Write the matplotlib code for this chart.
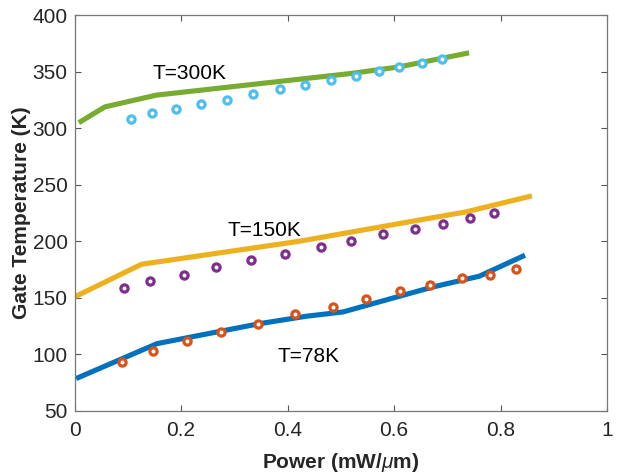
import matplotlib
matplotlib.use("Agg")
import matplotlib.pyplot as plt

plt.rcParams['font.family'] = ['Liberation Sans', 'DejaVu Sans']
plt.rcParams['mathtext.fontset'] = 'custom'
plt.rcParams['mathtext.it'] = 'Liberation Sans:italic'

# Simulated gate temperature (lines) and measured points (circles)
x_300_line = [0.008, 0.057, 0.154, 0.379, 0.52, 0.61, 0.741]
y_300_line = [305.0, 319.0, 329.4, 341.2, 348.6, 354.4, 366.8]
x_300_pts = [0.106, 0.145, 0.190, 0.238, 0.286, 0.336, 0.385, 0.433, 0.482,
             0.528, 0.571, 0.610, 0.652, 0.691]
y_300_pts = [308.4, 313.2, 317.3, 321.2, 325.2, 330.5, 334.4, 338.2, 342.4,
             345.9, 350.6, 354.4, 357.7, 361.5]

x_150_line = [0.0, 0.126, 0.423, 0.610, 0.735, 0.859]
y_150_line = [150.9, 179.8, 200.2, 215.8, 226.1, 240.3]
x_150_pts = [0.093, 0.142, 0.205, 0.266, 0.331, 0.396, 0.462, 0.520, 0.580,
             0.639, 0.692, 0.742, 0.788]
y_150_pts = [158.6, 164.8, 170.7, 177.2, 183.4, 188.9, 194.9, 200.2, 206.4,
             211.4, 215.5, 220.8, 224.7]

x_78_line = [0.003, 0.155, 0.348, 0.435, 0.504, 0.673, 0.760, 0.846]
y_78_line = [78.7, 109.6, 127.3, 133.8, 137.6, 159.7, 169.2, 187.8]
x_78_pts = [0.090, 0.147, 0.212, 0.276, 0.345, 0.415, 0.485, 0.548, 0.611,
            0.668, 0.727, 0.780, 0.829]
y_78_pts = [93.4, 103.1, 112.3, 119.6, 127.3, 136.2, 142.4, 149.1, 155.7,
            161.5, 167.2, 170.7, 175.7]

fig = plt.figure(figsize=(6.24, 4.76), dpi=100)
ax = fig.add_axes([74.5 / 624, 1 - 411 / 476, (607 - 74.5) / 624, (411 - 15.3) / 476])

lw = 3.7
mk = dict(linestyle='none', marker='o', markersize=5.2, markeredgewidth=2.3,
          markerfacecolor='white')

ax.plot(x_300_line, y_300_line, color='#77AC30', lw=lw, solid_capstyle='butt')
ax.plot(x_300_pts, y_300_pts, color='#4DBEEE', **mk)
ax.plot(x_150_line, y_150_line, color='#EDB120', lw=lw, solid_capstyle='butt')
ax.plot(x_150_pts, y_150_pts, color='#7E2F8E', **mk)
ax.plot(x_78_line, y_78_line, color='#0072BD', lw=lw, solid_capstyle='butt')
ax.plot(x_78_pts, y_78_pts, color='#D95319', **mk)

ax.text(0.147, 348.9, 'T=300K', fontsize=15, va='center', ha='left')
ax.text(0.288, 209.9, 'T=150K', fontsize=15, va='center', ha='left')
ax.text(0.381, 98.4, 'T=78K', fontsize=15, va='center', ha='left')

ax.set_xlim(0, 1)
ax.set_ylim(50, 400)
ax.set_xticks([0, 0.2, 0.4, 0.6, 0.8, 1])
ax.set_xticklabels(['0', '0.2', '0.4', '0.6', '0.8', '1'])
ax.set_yticks(range(50, 401, 50))

ax.tick_params(direction='in', top=True, right=True, length=4.5, width=0.8,
               color='#555555', labelcolor='#262626', labelsize=15)
ax.tick_params(axis='x', pad=7)
ax.tick_params(axis='y', pad=5)
for s in ax.spines.values():
    s.set_color('#777777')
    s.set_linewidth(0.9)

ax.set_xlabel(r'Power (mW/$\mu$m)', fontsize=15, fontweight='bold', color='#262626', labelpad=8)
ax.set_ylabel('Gate Temperature (K)', fontsize=15, fontweight='bold', color='#262626', labelpad=1)

fig.savefig('out.png', dpi=100, facecolor='white')
